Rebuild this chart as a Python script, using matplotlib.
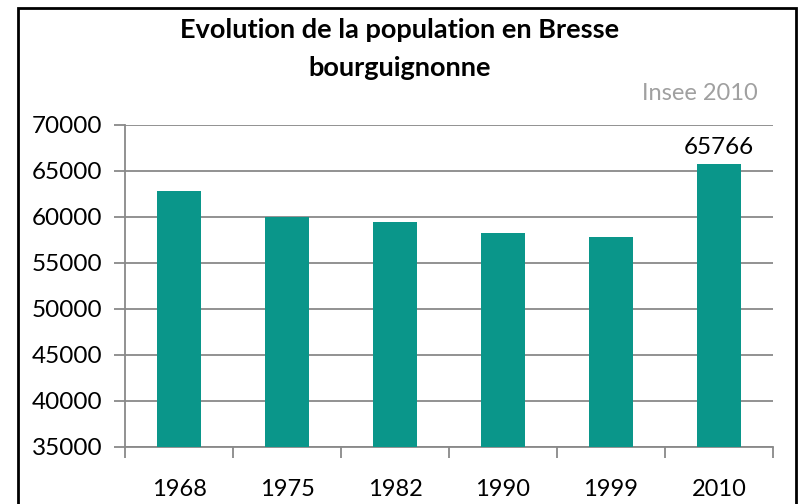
import matplotlib.pyplot as plt
from matplotlib.patches import Rectangle

plt.rcParams['font.family'] = ['Lato', 'DejaVu Sans']

years = ['1968', '1975', '1982', '1990', '1999', '2010']
population = [62850, 60050, 59420, 58230, 57860, 65766]
bar_color = '#0a968a'
grid_color = '#898989'

fig = plt.figure(figsize=(7.98, 5.04), dpi=100)
ax = fig.add_axes([0.1566, 0.1131, 0.8121, 0.6389])

x = range(len(years))
ax.bar(x, population, width=0.4, color=bar_color, zorder=3)
ax.set_xlim(-0.5, len(years) - 0.5)
ax.set_ylim(35000, 70000)
ax.set_yticks(range(35000, 70001, 5000))
ax.set_xticks(x)
ax.set_xticklabels(years)
ax.set_xticks([i - 0.5 for i in range(len(years) + 1)], minor=True)
ax.tick_params(axis='x', which='major', length=0, pad=23, labelsize=17)
ax.tick_params(axis='x', which='minor', length=8, width=1.3, color=grid_color)
ax.tick_params(axis='y', length=8, width=1.3, color=grid_color, labelsize=17.5, pad=8)
ax.yaxis.grid(True, color=grid_color, linewidth=1.3, zorder=0)
for s in ['top', 'right']:
    ax.spines[s].set_visible(False)
for s in ['left', 'bottom']:
    ax.spines[s].set_color(grid_color)
    ax.spines[s].set_linewidth(1.3)

ax.text(x[-1], population[-1] + 700, str(population[-1]), ha='center', va='bottom', fontsize=17.5)

fig.text(0.501, 0.94, 'Evolution de la population en Bresse', ha='center', va='center',
         fontsize=19.5, fontweight='bold')
fig.text(0.501, 0.865, 'bourguignonne', ha='center', va='center',
         fontsize=19.5, fontweight='bold')
fig.text(0.949, 0.815, 'Insee 2010', ha='right', va='center', fontsize=17, color='#a0a0a0')

fig.patches.append(Rectangle((0.022, -0.05), 0.975, 1.034, transform=fig.transFigure,
                             fill=False, edgecolor='black', linewidth=2))

fig.savefig('out.png', dpi=100)
